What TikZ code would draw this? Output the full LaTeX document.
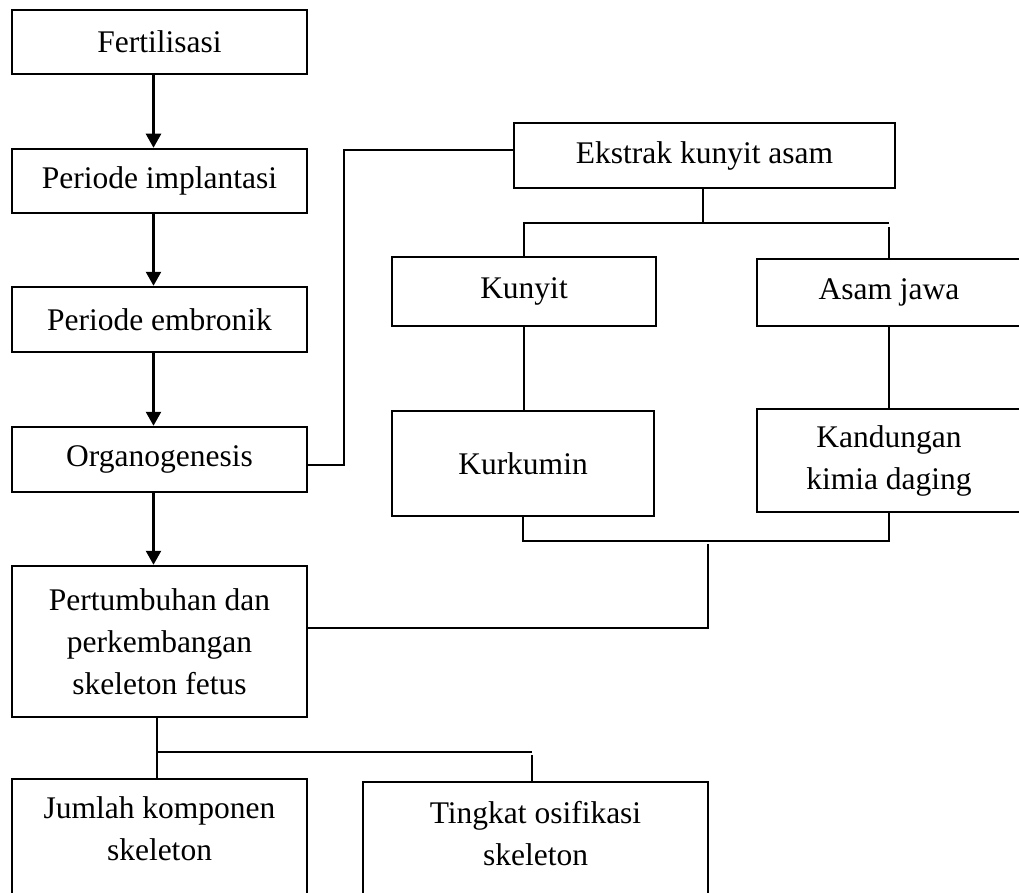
\documentclass[tikz,border=0pt]{standalone}
\usepackage{fontspec}
\setmainfont{Liberation Serif}
\usetikzlibrary{arrows.meta}
\begin{document}
\begin{tikzpicture}[x=1pt,y=-1pt,
  box/.style={draw, line width=2.5pt, rectangle, inner sep=0pt, align=center, font=\fontsize{31.5}{42}\selectfont},
  lbl/.style={inner sep=0pt, align=center, font=\fontsize{31.5}{42}\selectfont},
  conn/.style={line width=2pt},
  thinconn/.style={line width=1.5pt},
  arr/.style={line width=2.5pt, -{Triangle[width=15pt,length=14pt]}}]
\clip (0,0) rectangle (1019,893);
% left column
\node[box, minimum width=295pt, minimum height=64pt] (f) at (159.5,42) {Fertilisasi};
\node[box, minimum width=295pt, minimum height=64pt] (pi) at (159.5,181) {Periode implantasi};
\node[box, minimum width=295pt, minimum height=65pt] (pe) at (159.5,319.5) {Periode embronik};
\node[box, minimum width=295pt, minimum height=65pt] (og) at (159.5,459.5) {Organogenesis};
\node[box, minimum width=295pt, minimum height=151pt] (pt) at (159.5,641.5) {Pertumbuhan dan\\perkembangan\\skeleton fetus};
% right part
\node[box, minimum width=381pt, minimum height=65pt] (ek) at (704.5,155.5) {Ekstrak kunyit asam};
\node[box, minimum width=264pt, minimum height=69pt] (ku) at (524,291.5) {Kunyit};
\node[box, minimum width=264pt, minimum height=67pt] (aj) at (889,292.5) {Asam jawa};
\node[box, minimum width=262pt, minimum height=105pt] (kk) at (523,463.5) {Kurkumin};
\node[box, minimum width=264pt, minimum height=103pt] (kd) at (889,460.5) {Kandungan\\kimia daging};
% bottom boxes (cut off by the page edge)
\node[box, minimum width=295pt, minimum height=160pt] (jb) at (159.5,859) {};
\node[lbl, anchor=north] (jt) at (159.5,796.5) {Jumlah komponen\\skeleton};
\node[box, minimum width=345pt, minimum height=160pt] (tb) at (535.5,862) {};
\node[lbl, anchor=north] (tt) at (535.5,801.5) {Tingkat osifikasi\\skeleton};
% arrows
\draw[arr] ([xshift=-6pt]f.south) -- ([xshift=-6pt]pi.north);
\draw[arr] ([xshift=-6pt]pi.south) -- ([xshift=-6pt]pe.north);
\draw[arr] ([xshift=-6pt]pe.south) -- ([xshift=-6pt]og.north);
\draw[arr] ([xshift=-6pt]og.south) -- ([xshift=-6pt]pt.north);
% connectors
\draw[conn] ([yshift=-5.5pt]og.east) -- ++(36,0) |- ([yshift=5.5pt]ek.west);
\coordinate (j1) at (703,223);
\coordinate (j1l) at (524,223);
\coordinate (j1r) at (889,223);
\draw[conn] (ek.south -| j1) -- (j1);
\draw[conn] (ku.north) -- (j1l) -- (j1r);
\draw[conn] ([yshift=-4pt]j1r) -- (aj.north);
\draw[thinconn] (ku.south) -- (ku.south |- kk.north);
\draw[thinconn] (aj.south) -- (kd.north);
\coordinate (br) at (708,541);
\draw[conn] (kk.south) |- (br) -| (kd.south);
\draw[conn] ([yshift=-3pt]br) |- ([yshift=13.5pt]pt.east);
\coordinate (j2) at (157,752);
\coordinate (j3) at (532,752);
\draw[conn] (pt.south -| j2) -- (jb.north -| j2);
\draw[conn] (j2) -- (j3);
\draw[conn] ([yshift=-3pt]j3) -- (tb.north -| j3);
\end{tikzpicture}
\end{document}
